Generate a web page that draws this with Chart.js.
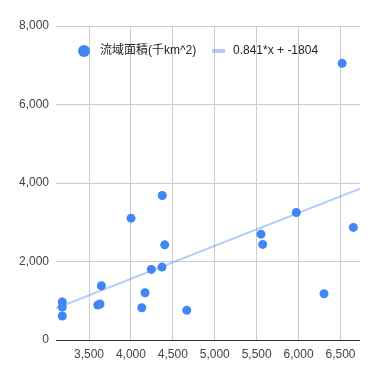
<!DOCTYPE html>
<html>
<head>
<meta charset="utf-8">
<script src="https://cdn.jsdelivr.net/npm/chart.js@4/dist/chart.umd.min.js"></script>
<style>
  html, body { margin: 0; padding: 0; background: #fff; }
  #wrap { width: 379px; height: 379px; }
</style>
</head>
<body>
<div id="wrap"><canvas id="scatterChart" width="379" height="379"></canvas></div>
<script>
// valores
var xValues = [3181, 3181, 3181, 3604, 3631, 3647, 4001, 4374, 4403, 4243,
               4371, 4168, 4129, 4666, 5552, 5572, 5973, 6654, 6304, 6520];
var yValues = [967, 840, 611, 890, 916, 1382, 3104, 3682, 2425, 1799,
               1858, 1204, 822, 756, 2697, 2435, 3249, 2868, 1178, 7048];
var seriesLabel = '流域面積(千km^2)';
var trendSlope = 0.841;
var trendIntercept = -1804;
var xTicks = [3500, 4000, 4500, 5000, 5500, 6000, 6500];
var yTicks = [0, 2000, 4000, 6000, 8000];
var xMin = 3106, xMax = 6733;

var blue = '#4285F4';
var trendColor = 'rgba(66, 133, 244, 0.4)';
var trendLabel = trendSlope + '*x + ' + trendIntercept;

var points = xValues.map(function (x, i) { return { x: x, y: yValues[i] }; });
var trendPoints = [xMin, xMax].map(function (x) {
    return { x: x, y: trendSlope * x + trendIntercept };
});

// leyenda dentro del área del gráfico
var insideLegend = {
    id: 'insideLegend',
    afterDraw: function (chart) {
        var ctx = chart.ctx;
        var y = 51;
        ctx.save();
        ctx.fillStyle = blue;
        ctx.beginPath();
        ctx.arc(84, y, 6, 0, Math.PI * 2);
        ctx.fill();
        ctx.font = '12px "Liberation Sans", Arial, "Noto Sans CJK JP", sans-serif';
        ctx.fillStyle = '#222';
        ctx.textBaseline = 'middle';
        ctx.fillText(seriesLabel, 100, y);
        ctx.strokeStyle = trendColor;
        ctx.lineWidth = 4;
        ctx.beginPath();
        ctx.moveTo(212, y);
        ctx.lineTo(225, y);
        ctx.stroke();
        ctx.fillStyle = '#222';
        ctx.fillText(trendLabel, 233, y);
        ctx.restore();
    }
};

var fmt = function (v) { return Number(v).toLocaleString('en-US'); };

var ctx = document.getElementById('scatterChart').getContext('2d');
var chart = new Chart(ctx, {
    type: 'scatter',
    data: {
        datasets: [{
            label: seriesLabel,
            data: points,
            backgroundColor: blue,
            borderWidth: 0,
            pointRadius: 4.5,
            pointHoverRadius: 4.5
        }, {
            type: 'line',
            label: trendLabel,
            data: trendPoints,
            borderColor: trendColor,
            borderWidth: 2,
            pointRadius: 0,
            fill: false
        }]
    },
    options: {
        responsive: false,
        animation: false,
        layout: { padding: { top: 26, right: 19, left: 0, bottom: 0 } },
        plugins: { legend: { display: false }, tooltip: { enabled: false } },
        scales: {
            x: {
                type: 'linear',
                min: xMin,
                max: xMax,
                afterBuildTicks: function (axis) {
                    axis.ticks = xTicks.map(function (v) { return { value: v }; });
                },
                afterFit: function (axis) { axis.height = 39; },
                border: { display: false },
                grid: { color: '#cccccc', drawTicks: false },
                ticks: {
                    padding: 7,
                    color: '#444',
                    font: { family: '"Liberation Sans", Arial, sans-serif', size: 12 },
                    maxRotation: 0,
                    callback: fmt
                }
            },
            y: {
                min: 0,
                max: 8000,
                afterBuildTicks: function (axis) {
                    axis.ticks = yTicks.map(function (v) { return { value: v }; });
                },
                afterFit: function (axis) { axis.width = 56; },
                border: { display: false },
                grid: {
                    drawTicks: false,
                    color: function (c) { return c.tick && c.tick.value === 0 ? '#333333' : '#cccccc'; }
                },
                ticks: {
                    padding: 7,
                    color: '#444',
                    font: { family: '"Liberation Sans", Arial, sans-serif', size: 12 },
                    callback: fmt
                }
            }
        }
    },
    plugins: [insideLegend]
});
</script>
</body>
</html>
